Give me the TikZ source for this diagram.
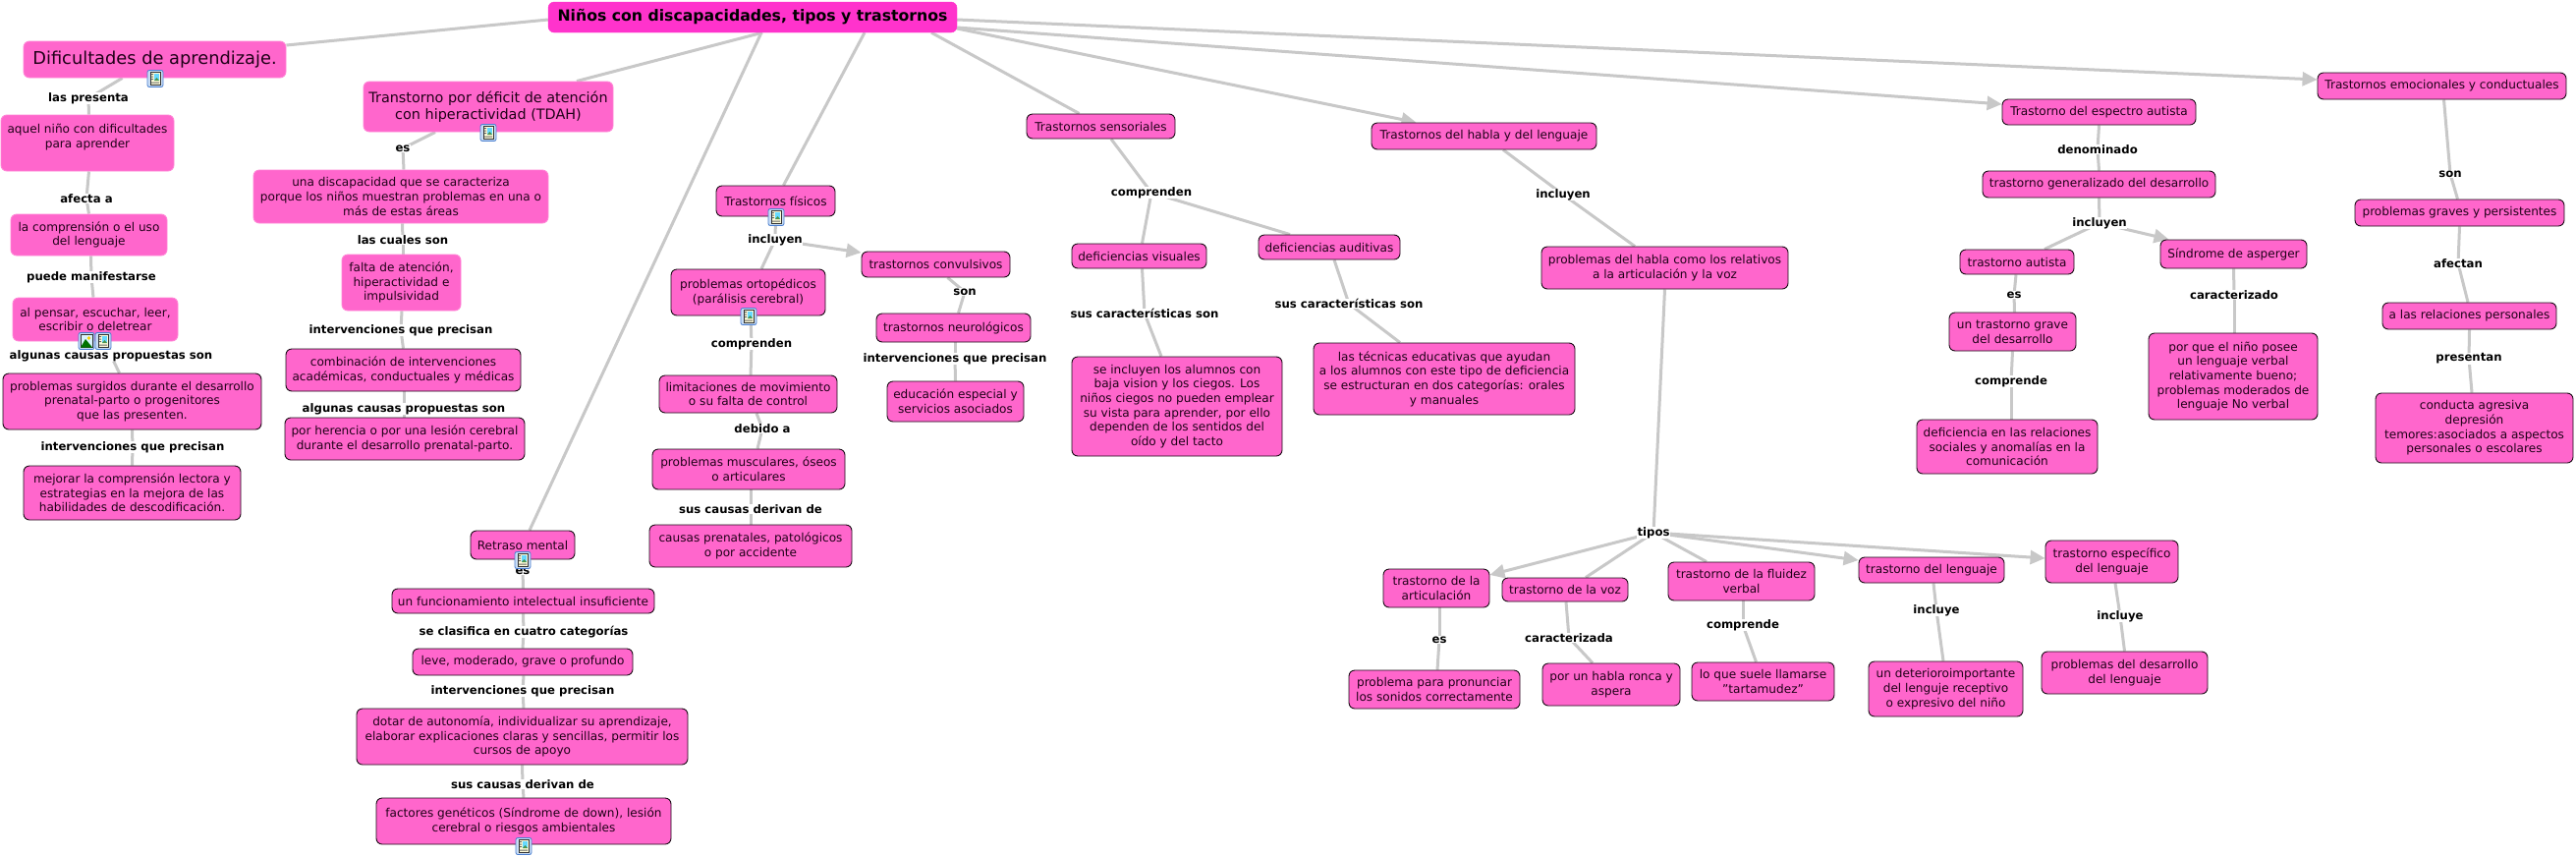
\documentclass[tikz,border=0pt]{standalone}
\usepackage{fontspec}
\setmainfont{DejaVu Sans}
\usetikzlibrary{arrows.meta}
\pgfdeclarelayer{bg}
\pgfsetlayers{bg,main}
\definecolor{pinkf}{HTML}{FF66CC}
\definecolor{rootf}{HTML}{FF33CC}
\definecolor{lnkc}{HTML}{C8C8C8}
\definecolor{inkc}{HTML}{200018}
\definecolor{icoedge}{HTML}{4A7FD0}
\definecolor{icofill}{HTML}{C9DDF5}
\tikzset{
  cbase/.style={rectangle,rounded corners=6pt,inner sep=0pt,align=center,fill=pinkf,text=inkc,font=\fontsize{12.1}{14.7}\selectfont},
  bx/.style={cbase,draw=black!90!pinkf,line width=0.9pt},
  bl/.style={cbase,draw=pinkf!80!white,line width=0.9pt},
  rootbx/.style={cbase,fill=rootf,draw=rootf,text=black,font=\fontsize{15.7}{18}\selectfont\bfseries},
  lab/.style={fill=white,inner sep=0.5pt,text=black,font=\fontsize{11.7}{14}\selectfont\bfseries},
  lnk/.style={draw=lnkc,line width=3pt},
  arr/.style={lnk,-{Triangle[length=15pt,width=14pt,fill=lnkc]}},
}
\newcommand\cn[6][bx]{%
  \pgfmathsetmacro\cnx{(#3+#5)/2}\pgfmathsetmacro\cny{(#4+#6)/2}%
  \pgfmathsetmacro\cnw{#5-#3}\pgfmathsetmacro\cnh{#6-#4}%
  \cntext{#1}{#2}}
\newcommand\cntext[3]{\node[#1,minimum width=\cnw pt,minimum height=\cnh pt] (#2) at (\cnx,\cny) {#3};}
\newcommand\lb[4]{\node[lab] (#1) at (#2,#3) {#4};}
\newcommand\docicon[2]{%
  \begin{scope}[shift={(#1,#2)}]
    \fill[icofill,draw=icoedge,line width=0.8pt,rounded corners=2pt] (-8,-8.5) rectangle (8,8.5);
    \fill[yellow!15,draw=black!80,line width=0.6pt] (-5,-6.5) rectangle (5,6.5);
    \fill[black!60] (-4,-5) rectangle (-2,-4) (-4,-2.5) rectangle (-2,-1.5) (-4,0) rectangle (-2,1) (-4,3.5) rectangle (4,4.5);
    \fill[blue!25!cyan!60] (-1,-5.5) rectangle (4,2);
    \fill[green!40!black!70] (-1,2) -- (1.5,-1) -- (4,2) -- cycle;
  \end{scope}}
\newcommand\imgicon[2]{%
  \begin{scope}[shift={(#1,#2)}]
    \fill[icofill,draw=icoedge,line width=0.8pt,rounded corners=2pt] (-8,-8.5) rectangle (8,8.5);
    \fill[cyan!15,draw=black!80,line width=0.6pt] (-6,-6.5) rectangle (6,6.5);
    \fill[yellow!70!orange] (2.5,-3) circle (1.8);
    \fill[green!45!black] (-6,6.5) -- (-1,-2) -- (6,6.5) -- cycle;
  \end{scope}}
\begin{document}
\begin{tikzpicture}[x=1pt,y=-1pt]
\useasboundingbox (0,0) rectangle (2622,871);
\begin{pgfonlayer}{bg}
\fill[white] (0,0) rectangle (2622,871);
\end{pgfonlayer}
% ---- concepts
\cn[rootbx]{root}{558}{2}{974}{33}{Niños con discapacidades, tipos y trastornos}
\cn[bl,font=\fontsize{17.8}{21}\selectfont]{dif}{24}{42}{291}{79}{Dificultades de aprendizaje.}
\cn[bl,font=\fontsize{14.4}{17.3}\selectfont]{tdah}{370}{83}{624}{134}{Transtorno por déficit de atención\\con hiperactividad (TDAH)}
\cn[bl]{aquel}{1}{117}{177}{174}{aquel niño con dificultades\\para aprender\\~}
\cn[bl]{comp}{11}{218}{170}{260}{la comprensión o el uso\\del lenguaje}
\cn[bl]{pensar}{13}{303}{181}{347}{al pensar, escuchar, leer,\\escribir o deletrear}
\cn{probs}{3}{380}{266}{437}{problemas surgidos durante el desarrollo\\prenatal-parto o progenitores\\que las presenten.}
\cn{mej}{24}{474}{245}{529}{mejorar la comprensión lectora y\\estrategias en la mejora de las\\habilidades de descodificación.}
\cn[bl]{una}{258}{173}{558}{227}{una discapacidad que se caracteriza\\porque los niños muestran problemas en una o\\más de estas áreas}
\cn[bl]{falta}{348}{259}{469}{316}{falta de atención,\\hiperactividad e\\impulsividad}
\cn{comb}{291}{355}{530}{398}{combinación de intervenciones\\académicas, conductuales y médicas}
\cn{her}{290}{425}{534}{468}{por herencia o por una lesión cerebral\\durante el desarrollo prenatal-parto.}
\cn{retraso}{479}{540}{585}{569}{Retraso mental}
\cn{func}{399}{599}{666}{624}{un funcionamiento intelectual insuficiente}
\cn{leve}{420}{660}{644}{687}{leve, moderado, grave o profundo}
\cn{dotar}{363}{721}{700}{778}{dotar de autonomía, individualizar su aprendizaje,\\elaborar explicaciones claras y sencillas, permitir los\\cursos de apoyo}
\cn{fact}{383}{812}{683}{859}{factores genéticos (Síndrome de down), lesión\\cerebral o riesgos ambientales}
\cn{fis}{729}{189}{850}{220}{Trastornos físicos}
\cn{orto}{683}{274}{840}{321}{problemas ortopédicos\\(parálisis cerebral)}
\cn{lim}{671}{382}{852}{420}{limitaciones de movimiento\\o su falta de control}
\cn{musc}{664}{457}{860}{498}{problemas musculares, óseos\\o articulares}
\cn{causas}{661}{534}{867}{577}{causas prenatales, patológicos\\o por accidente}
\cn{conv}{877}{256}{1028}{282}{trastornos convulsivos}
\cn{neuro}{892}{319}{1049}{348}{trastornos neurológicos}
\cn{edu}{903}{388}{1042}{429}{educación especial y\\servicios asociados}
\cn{sens}{1045}{116}{1196}{141}{Trastornos sensoriales}
\cn{vis}{1091}{248}{1228}{273}{deficiencias visuales}
\cn{inc}{1091}{363}{1305}{464}{se incluyen los alumnos con\\baja vision y los ciegos. Los\\niños ciegos no pueden emplear\\su vista para aprender, por ello\\dependen de los sentidos del\\oído y del tacto}
\cn{audit}{1281}{239}{1425}{264}{deficiencias auditivas}
\cn{tecn}{1337}{349}{1603}{422}{las técnicas educativas que ayudan\\a los alumnos con este tipo de deficiencia\\se estructuran en dos categorías: orales\\y manuales}
\cn{habla}{1396}{125}{1625}{152}{Trastornos del habla y del lenguaje}
\cn{pbh}{1569}{251}{1820}{294}{problemas del habla como los relativos\\a la articulación y la voz}
\cn{art}{1408}{579}{1516}{618}{trastorno de la\\articulación}
\cn{voz}{1529}{588}{1657}{612}{trastorno de la voz}
\cn{fluid}{1698}{572}{1847}{611}{trastorno de la fluidez\\verbal}
\cn{leng}{1892}{567}{2040}{593}{trastorno del lenguaje}
\cn{espec}{2082}{550}{2217}{593}{trastorno específico\\del lenguaje}
\cn{pron}{1373}{682}{1547}{721}{problema para pronunciar\\los sonidos correctamente}
\cn{ronca}{1570}{675}{1710}{718}{por un habla ronca y\\aspera}
\cn{tart}{1722}{674}{1867}{713}{lo que suele llamarse\\"tartamudez"}
\cn{deter}{1902}{673}{2059}{729}{un deterioroimportante\\del lenguje receptivo\\o expresivo del niño}
\cn{pdes}{2078}{663}{2247}{706}{problemas del desarrollo\\del lenguaje}
\cn{esp}{2038}{101}{2235}{127}{Trastorno del espectro autista}
\cn{gen}{2018}{174}{2255}{201}{trastorno generalizado del desarrollo}
\cn{aut}{1995}{254}{2111}{279}{trastorno autista}
\cn{asp}{2199}{244}{2348}{273}{Síndrome de asperger}
\cn{grave}{1984}{318}{2113}{357}{un trastorno grave\\del desarrollo}
\cn{defr}{1951}{427}{2135}{482}{deficiencia en las relaciones\\sociales y anomalías en la\\comunicación}
\cn{pq}{2187}{339}{2359}{427}{por que el niño posee\\un lenguaje verbal\\relativamente bueno;\\problemas moderados de\\lenguaje No verbal}
\cn{emoc}{2359}{74}{2612}{101}{Trastornos emocionales y conductuales}
\cn{graves}{2397}{203}{2610}{230}{problemas graves y persistentes}
\cn{rel}{2425}{308}{2602}{335}{a las relaciones personales}
\cn{cond}{2418}{400}{2619}{471}{conducta agresiva\\depresión\\temores:asociados a aspectos\\personales o escolares}
% ---- linking phrases
\lb{l1}{90}{100}{las presenta}
\lb{l2}{88}{202}{afecta a}
\lb{l3}{93}{282}{puede manifestarse}
\lb{l4}{113}{362}{algunas causas propuestas son}
\lb{l5}{135}{455}{intervenciones que precisan}
\lb{l6}{410}{151}{es}
\lb{l7}{410}{244}{las cuales son}
\lb{l8}{408}{336}{intervenciones que precisan}
\lb{l9}{411}{416}{algunas causas propuestas son}
\lb{l10}{532}{581}{es}
\lb{l11}{533}{643}{se clasifica en cuatro categorías}
\lb{l12}{532}{703}{intervenciones que precisan}
\lb{l13}{532}{798}{sus causas derivan de}
\lb{l14}{789}{244}{incluyen}
\lb{l15}{765}{350}{comprenden}
\lb{l16}{776}{436}{debido a}
\lb{l17}{764}{518}{sus causas derivan de}
\lb{l18}{982}{297}{son}
\lb{l19}{972}{365}{intervenciones que precisan}
\lb{l20}{1172}{196}{comprenden}
\lb{l21}{1165}{319}{sus características son}
\lb{l22}{1373}{309}{sus características son}
\lb{l23}{1591}{198}{incluyen}
\lb{l24}{1683}{542}{tipos}
\lb{l25}{1465}{651}{es}
\lb{l26}{1597}{649}{caracterizada}
\lb{l27}{1774}{636}{comprende}
\lb{l28}{1971}{621}{incluye}
\lb{l29}{2158}{627}{incluye}
\lb{l30}{2135}{152}{denominado}
\lb{l31}{2137}{227}{incluyen}
\lb{l32}{2050}{300}{es}
\lb{l33}{2047}{388}{comprende}
\lb{l34}{2274}{300}{caracterizado}
\lb{l35}{2494}{177}{son}
\lb{l36}{2502}{268}{afectan}
\lb{l37}{2513}{365}{presentan}
% ---- connectors
\begin{pgfonlayer}{bg}
\draw[lnk] ([yshift=-2.5pt]root.west) -- ([yshift=14.5pt]dif.east);
\draw[lnk] ([xshift=10pt]root.south) -- ([xshift=90pt]tdah.north);
\draw[lnk] ([xshift=9pt]root.south) -- ([xshift=7pt]retraso.north);
\draw[lnk] ([xshift=114pt]root.south) -- ([xshift=8pt]fis.north);
\draw[lnk] ([xshift=182pt]root.south) -- ([xshift=-22pt]sens.north);
\draw[arr] ([yshift=-11.5pt]root.east) -- ([xshift=-69pt]habla.north);
\draw[arr] ([yshift=-10.5pt]root.east) -- ([yshift=8pt]esp.west);
\draw[arr] ([yshift=-2.5pt]root.east) -- ([yshift=6.5pt]emoc.west);
\draw[lnk] ([xshift=-33pt]dif.south) -- (l1.center);
\draw[lnk] (l1.center) -- ([xshift=1.5pt]aquel.north);
\draw[lnk] ([xshift=1.5pt]aquel.south) -- (l2.center);
\draw[lnk] (l2.center) -- (comp.north);
\draw[lnk] ([xshift=2pt]comp.south) -- (l3.center);
\draw[lnk] (l3.center) -- ([xshift=-2pt]pensar.north);
\draw[lnk] ([xshift=13pt]pensar.south) -- (l4.center);
\draw[lnk] (l4.center) -- ([xshift=-13pt]probs.north);
\draw[lnk] (probs.south) -- (l5.center);
\draw[lnk] (l5.center) -- (mej.north);
\draw[lnk] ([xshift=-54pt]tdah.south) -- (l6.center);
\draw[lnk] (l6.center) -- ([xshift=3pt]una.north);
\draw[lnk] ([xshift=1.5pt]una.south) -- (l7.center);
\draw[lnk] (l7.center) -- ([xshift=1.5pt]falta.north);
\draw[lnk] ([xshift=0.5pt]falta.south) -- (l8.center);
\draw[lnk] (l8.center) -- (comb.north);
\draw[lnk] ([xshift=0.5pt]comb.south) -- (l9.center);
\draw[lnk] (l9.center) -- ([xshift=-1pt]her.north);
\draw[lnk] (retraso.south) -- (l10.center);
\draw[lnk] (l10.center) -- (func.north);
\draw[lnk] (func.south) -- (l11.center);
\draw[lnk] (l11.center) -- (leve.north);
\draw[lnk] ([xshift=1pt]leve.south) -- (l12.center);
\draw[lnk] (l12.center) -- ([xshift=1.5pt]dotar.north);
\draw[lnk] (dotar.south) -- (l13.center);
\draw[lnk] (l13.center) -- (fact.north);
\draw[lnk] (fis.south) -- (l14.center);
\draw[lnk] (l14.center) -- ([xshift=13.5pt]orto.north);
\draw[arr] (l14.center) -- ([yshift=12pt]conv.west);
\draw[lnk] ([xshift=2.5pt]orto.south) -- (l15.center);
\draw[lnk] (l15.center) -- ([xshift=2.5pt]lim.north);
\draw[lnk] ([xshift=8.5pt]lim.south) -- (l16.center);
\draw[lnk] (l16.center) -- ([xshift=9pt]musc.north);
\draw[lnk] ([xshift=2pt]musc.south) -- (l17.center);
\draw[lnk] (l17.center) -- (causas.north);
\draw[lnk] ([xshift=12pt]conv.south) -- (l18.center);
\draw[lnk] (l18.center) -- ([xshift=5pt]neuro.north);
\draw[lnk] ([xshift=1.5pt]neuro.south) -- (l19.center);
\draw[lnk] (l19.center) -- (edu.north);
\draw[lnk] ([xshift=10.5pt]sens.south) -- (l20.center);
\draw[lnk] (l20.center) -- ([xshift=3pt]vis.north);
\draw[lnk] (l20.center) -- ([xshift=-40pt]audit.north);
\draw[lnk] ([xshift=3pt]vis.south) -- (l21.center);
\draw[lnk] (l21.center) -- ([xshift=-16pt]inc.north);
\draw[lnk] ([xshift=5pt]audit.south) -- (l22.center);
\draw[lnk] (l22.center) -- ([xshift=-45pt]tecn.north);
\draw[lnk] ([xshift=19.5pt]habla.south) -- (l23.center);
\draw[lnk] (l23.center) -- ([xshift=-30.5pt]pbh.north);
\draw[lnk] (pbh.south) -- (l24.center);
\draw[arr] (l24.center) -- ([yshift=13.5pt]art.east);
\draw[lnk] (l24.center) -- ([xshift=21pt]voz.north);
\draw[lnk] (l24.center) -- ([xshift=-35.5pt]fluid.north);
\draw[arr] (l24.center) -- ([yshift=10pt]leng.west);
\draw[arr] (l24.center) -- ([yshift=3.5pt]espec.west);
\draw[lnk] ([xshift=3pt]art.south) -- (l25.center);
\draw[lnk] (l25.center) -- ([xshift=3pt]pron.north);
\draw[lnk] ([xshift=1pt]voz.south) -- (l26.center);
\draw[lnk] (l26.center) -- ([xshift=-19pt]ronca.north);
\draw[lnk] ([xshift=1.5pt]fluid.south) -- (l27.center);
\draw[lnk] (l27.center) -- ([xshift=-7pt]tart.north);
\draw[lnk] ([xshift=2pt]leng.south) -- (l28.center);
\draw[lnk] (l28.center) -- ([xshift=-2.5pt]deter.north);
\draw[lnk] ([xshift=3.5pt]espec.south) -- (l29.center);
\draw[lnk] (l29.center) -- (pdes.north);
\draw[lnk] (esp.south) -- (l30.center);
\draw[lnk] (l30.center) -- (gen.north);
\draw[lnk] (gen.south) -- (l31.center);
\draw[lnk] (l31.center) -- ([xshift=28pt]aut.north);
\draw[arr] (l31.center) -- ([xshift=-66pt]asp.north);
\draw[lnk] ([xshift=-1pt]aut.south) -- (l32.center);
\draw[lnk] (l32.center) -- ([xshift=2pt]grave.north);
\draw[lnk] (grave.south) -- (l33.center);
\draw[lnk] (l33.center) -- ([xshift=4pt]defr.north);
\draw[lnk] (asp.south) -- (l34.center);
\draw[lnk] (l34.center) -- ([xshift=1pt]pq.north);
\draw[lnk] ([xshift=2pt]emoc.south) -- (l35.center);
\draw[lnk] (l35.center) -- ([xshift=-2pt]graves.north);
\draw[lnk] (graves.south) -- (l36.center);
\draw[lnk] (l36.center) -- ([xshift=-1.5pt]rel.north);
\draw[lnk] (rel.south) -- (l37.center);
\draw[lnk] (l37.center) -- ([xshift=-2.5pt]cond.north);
\end{pgfonlayer}
% ---- resource icons
\docicon{158}{80}
\docicon{497}{135}
\imgicon{88}{347}
\docicon{105}{347}
\docicon{532}{570}
\docicon{533}{861}
\docicon{790}{221}
\docicon{762}{322}
\end{tikzpicture}
\end{document}
